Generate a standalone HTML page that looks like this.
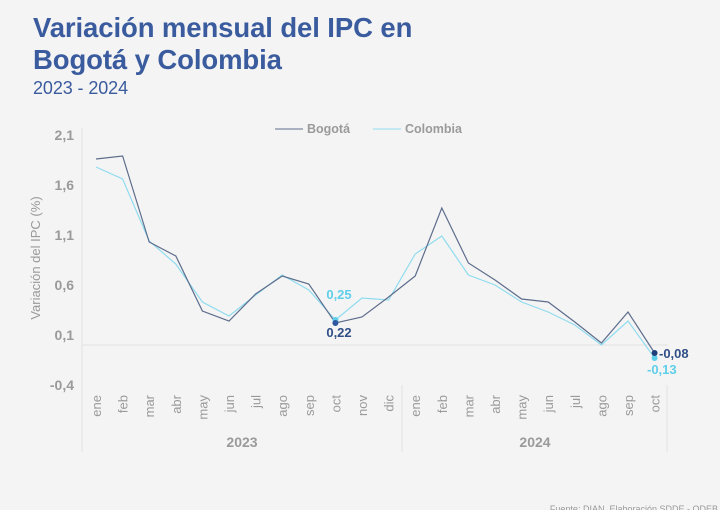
<!DOCTYPE html>
<html><head><meta charset="utf-8">
<style>
html,body{margin:0;padding:0;background:#f5f4f4;}
body{width:720px;height:510px;position:relative;overflow:hidden;font-family:"Liberation Sans",sans-serif;}
.t{position:absolute;left:33px;color:#3a5c9e;font-weight:bold;font-size:27.5px;letter-spacing:-0.1px;}
</style></head><body>
<div class="t" style="top:12px">Variación mensual del IPC en</div>
<div class="t" style="top:44px">Bogotá y Colombia</div>
<div class="t" style="top:78px;font-weight:normal;font-size:18px">2023 - 2024</div>
<svg id="s" width="720" height="510" style="position:absolute;left:0;top:0" font-family="Liberation Sans, sans-serif"></svg>
<script>
var s=document.getElementById('s'),h='';
function Y(v){return 345-100*v;}
function X(i){return 96+26.6*i;}
var b=[1.86,1.89,1.03,0.89,0.34,0.24,0.51,0.69,0.61,0.22,0.28,0.48,0.69,1.37,0.82,0.65,0.46,0.43,0.23,0.02,0.33,-0.08];
var c=[1.78,1.66,1.04,0.81,0.43,0.29,0.50,0.70,0.55,0.25,0.47,0.45,0.91,1.09,0.70,0.60,0.43,0.33,0.20,0.00,0.24,-0.13];
h+='<line x1="82" y1="128" x2="82" y2="452" stroke="#e2e2e2"/>';
h+='<line x1="82" y1="345" x2="668" y2="345" stroke="#e2e2e2"/>';
h+='<line x1="402" y1="385" x2="402" y2="452" stroke="#e2e2e2"/>';
h+='<line x1="667" y1="385" x2="667" y2="452" stroke="#e2e2e2"/>';
var yl=['2,1','1,6','1,1','0,6','0,1','-0,4'];
for(var k=0;k<6;k++)h+='<text x="74" y="'+(140+50*k)+'" text-anchor="end" font-size="14" font-weight="bold" fill="#9a9a9a">'+yl[k]+'</text>';
h+='<text transform="translate(40,258) rotate(-90)" text-anchor="middle" font-size="13" fill="#9a9a9a">Variación del IPC (%)</text>';
var m=['ene','feb','mar','abr','may','jun','jul','ago','sep','oct','nov','dic'];
for(var i=0;i<22;i++){h+='<text transform="translate('+(X(i)+5)+',395) rotate(-90)" text-anchor="end" font-size="13" fill="#9a9a9a">'+m[i%12]+'</text>';}
h+='<text x="242" y="447" text-anchor="middle" font-size="14" font-weight="bold" fill="#9a9a9a">2023</text>';
h+='<text x="535" y="447" text-anchor="middle" font-size="14" font-weight="bold" fill="#9a9a9a">2024</text>';
function pl(a,col){var p=a.map(function(v,i){return X(i).toFixed(1)+','+Y(v).toFixed(1)}).join(' ');return '<polyline points="'+p+'" fill="none" stroke="'+col+'" stroke-width="1.2"/>';}
h+=pl(c,'#8fdcef');h+=pl(b,'#5d6d8c');
h+='<circle cx="'+X(9)+'" cy="'+Y(0.25)+'" r="3" fill="#5fcfea"/><circle cx="'+X(9)+'" cy="'+Y(0.22)+'" r="3" fill="#2e57a0"/>';
h+='<circle cx="'+X(21)+'" cy="'+Y(-0.13)+'" r="3" fill="#5fcfea"/><circle cx="'+X(21)+'" cy="'+Y(-0.08)+'" r="3" fill="#1f3f7a"/>';
h+='<text x="339" y="299" text-anchor="middle" font-size="13" font-weight="bold" fill="#5fcfea">0,25</text>';
h+='<text x="339" y="337" text-anchor="middle" font-size="13" font-weight="bold" fill="#2f4f86">0,22</text>';
h+='<text x="659" y="358" font-size="13" font-weight="bold" fill="#2f4f86">-0,08</text>';
h+='<text x="647" y="374" font-size="13" font-weight="bold" fill="#5fcfea">-0,13</text>';
h+='<line x1="275" y1="129" x2="303" y2="129" stroke="#5d6d8c"/><text x="307" y="133" font-size="12.5" font-weight="bold" fill="#9a9a9a">Bogotá</text>';
h+='<line x1="373" y1="129" x2="401" y2="129" stroke="#8fdcef"/><text x="405" y="133" font-size="12.5" font-weight="bold" fill="#9a9a9a">Colombia</text>';
h+='<text x="718" y="512" text-anchor="end" font-size="9" fill="#999">Fuente: DIAN. Elaboración SDDE - ODEB</text>';
s.innerHTML=h;
</script>
</body></html>
